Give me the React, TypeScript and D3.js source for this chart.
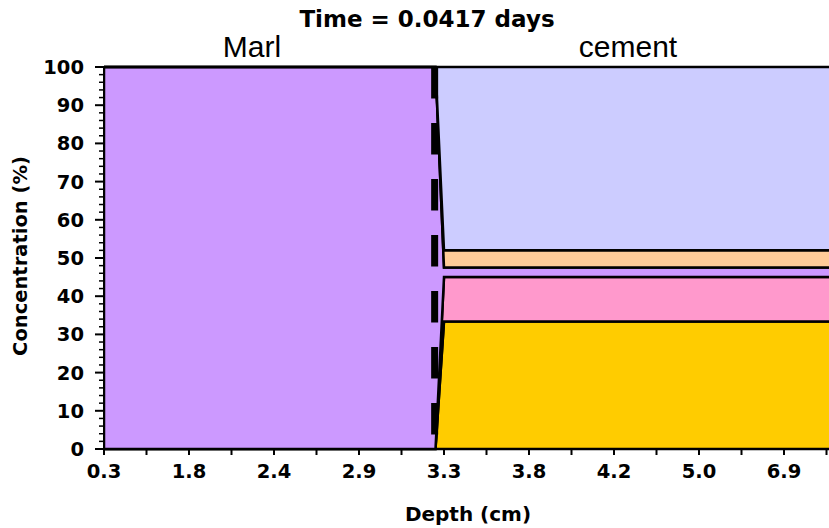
import React from "react";
import * as d3 from "d3";

// Cell indices along the depth profile (category positions) where values change
const cellIndex = [0, 39, 40, 86];
// Stacked series values (%) at those cells, bottom to top
const goldValues = [0, 0, 33.4, 33.4];
const pinkValues = [0, 0, 11.6, 11.6];
const marlValues = [100, 100, 2.5, 2.5];
const peachValues = [0, 0, 4.5, 4.5];
const lavenderValues = [0, 0, 48, 48];

const seriesKeys = ["gold", "pink", "marl", "peach", "lavender"];
const seriesColors: Record<string, string> = {
  gold: "#ffcc00",
  pink: "#ff99cc",
  marl: "#cc99ff",
  peach: "#ffcc99",
  lavender: "#ccccff",
};

// Tick labels (depth, cm) at every 10th cell
const tickCells = [0, 10, 20, 30, 40, 50, 60, 70, 80];
const depthLabels = ["0.3", "1.8", "2.4", "2.9", "3.3", "3.8", "4.2", "5.0", "6.9"];
const yTicks = [0, 10, 20, 30, 40, 50, 60, 70, 80, 90, 100];

const interfaceCell = 38.9;

const W = 829;
const H = 528;
const FONT = "'DejaVu Sans', Verdana, sans-serif";
const SANS = "'Liberation Sans', Arial, sans-serif";

export default function App() {
  const x = d3.scaleLinear().domain([0, 85]).range([104, 826.5]);
  const y = d3.scaleLinear().domain([0, 100]).range([449, 67]);

  const rows = cellIndex.map((c, i) => ({
    cell: c,
    gold: goldValues[i],
    pink: pinkValues[i],
    marl: marlValues[i],
    peach: peachValues[i],
    lavender: lavenderValues[i],
  }));
  const stacked = d3.stack<any>().keys(seriesKeys)(rows);
  const area = d3
    .area<any>()
    .x((d) => x(d.data.cell))
    .y0((d) => y(d[0]))
    .y1((d) => y(d[1]));

  const minorY = d3.range(0, 101, 2).filter((v) => v % 10 !== 0);
  const xTickCells = d3.range(0, 86, 5);

  return (
    <svg
      width={W}
      height={H}
      style={{ position: "absolute", left: 0, top: 0, background: "#fff" }}
    >
      <defs>
        <clipPath id="plotclip">
          <rect x={104} y={60} width={W - 104} height={395} />
        </clipPath>
      </defs>
      <g clipPath="url(#plotclip)">
        {stacked.map((s) => (
          <path
            key={s.key}
            d={area(s) || ""}
            fill={seriesColors[s.key]}
            stroke="#000"
            strokeWidth={2.5}
            strokeLinejoin="miter"
          />
        ))}
      </g>
      <line
        x1={x(interfaceCell)}
        x2={x(interfaceCell)}
        y1={y(100)}
        y2={y(0)}
        stroke="#000"
        strokeWidth={7}
        strokeDasharray="31.5 24.5"
      />
      {/* Y axis */}
      <line x1={104} x2={104} y1={y(100) - 1} y2={y(0) + 1} stroke="#000" strokeWidth={2} />
      {yTicks.map((v) => (
        <g key={"y" + v}>
          <line x1={95} x2={104} y1={y(v)} y2={y(v)} stroke="#000" strokeWidth={2} />
          <text
            x={84}
            y={y(v) + 7}
            textAnchor="end"
            fontFamily={FONT}
            fontWeight="bold"
            fontSize={19.5}
          >
            {v}
          </text>
        </g>
      ))}
      {minorY.map((v) => (
        <line key={"m" + v} x1={99} x2={104} y1={y(v)} y2={y(v)} stroke="#000" strokeWidth={1.5} />
      ))}
      {/* X axis */}
      <line x1={103} x2={W} y1={y(0)} y2={y(0)} stroke="#000" strokeWidth={2} />
      {xTickCells.map((c) => (
        <line key={"x" + c} x1={x(c)} x2={x(c)} y1={y(0)} y2={y(0) + 6} stroke="#000" strokeWidth={2} />
      ))}
      {tickCells.map((c, i) => (
        <text
          key={"xl" + c}
          x={x(c)}
          y={478}
          textAnchor="middle"
          fontFamily={FONT}
          fontWeight="bold"
          fontSize={19.5}
        >
          {depthLabels[i]}
        </text>
      ))}
      {/* Titles */}
      <text x={427} y={27} textAnchor="middle" fontFamily={FONT} fontWeight="bold" fontSize={23}>
        Time = 0.0417 days
      </text>
      <text x={252} y={57} textAnchor="middle" fontFamily={SANS} fontSize={30}>
        Marl
      </text>
      <text x={628} y={57} textAnchor="middle" fontFamily={SANS} fontSize={30}>
        cement
      </text>
      <text x={468} y={521} textAnchor="middle" fontFamily={FONT} fontWeight="bold" fontSize={20}>
        Depth (cm)
      </text>
      <text
        transform={`translate(27,256) rotate(-90)`}
        textAnchor="middle"
        fontFamily={FONT}
        fontWeight="bold"
        fontSize={19.5}
      >
        Concentration (%)
      </text>
    </svg>
  );
}
